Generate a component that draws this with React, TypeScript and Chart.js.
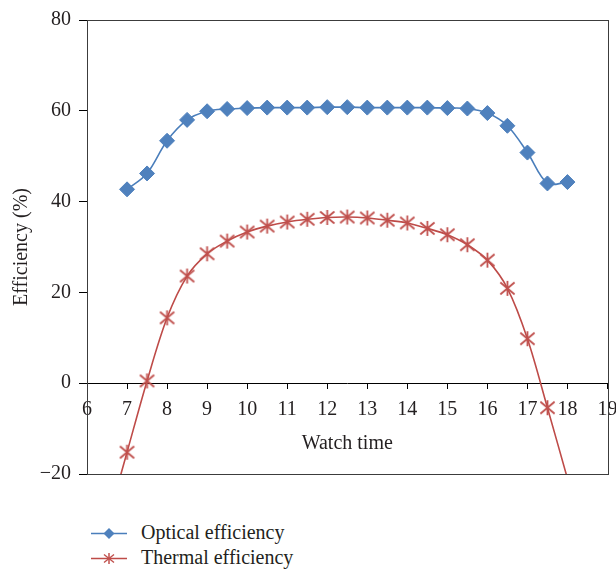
import React, { useEffect, useLayoutEffect, useRef } from "react";
import { Chart, registerables } from "chart.js";

Chart.register(...registerables);

// Hours of the day at which readings were taken
const opticalTime = [7, 7.5, 8, 8.5, 9, 9.5, 10, 10.5, 11, 11.5, 12, 12.5, 13, 13.5, 14, 14.5, 15, 15.5, 16, 16.5, 17, 17.5, 18];
const opticalEfficiency = [42.7, 46.2, 53.4, 58.0, 59.9, 60.4, 60.6, 60.7, 60.7, 60.7, 60.8, 60.8, 60.7, 60.7, 60.7, 60.7, 60.6, 60.5, 59.5, 56.7, 50.8, 44.0, 44.3];

// Thermal series runs a little past both ends of the visible range
const thermalTime = [6.5, 7, 7.5, 8, 8.5, 9, 9.5, 10, 10.5, 11, 11.5, 12, 12.5, 13, 13.5, 14, 14.5, 15, 15.5, 16, 16.5, 17, 17.5, 18];
const thermalEfficiency = [-31, -15.2, 0.5, 14.4, 23.6, 28.5, 31.3, 33.3, 34.6, 35.5, 36.1, 36.5, 36.6, 36.4, 35.9, 35.3, 34.1, 32.7, 30.5, 27.1, 20.9, 9.8, -5.4, -21];

const xTicks = { min: 6, max: 19, step: 1 };
const yTicks = { min: -20, max: 80, step: 20 };

const seriesNames = ["Optical efficiency", "Thermal efficiency"];
const xTitle = "Watch time";
const yTitle = "Efficiency (%)";

const BLUE_LINE = "#4a7ebb";
const BLUE_FILL = "#4f81bd";
const RED_LINE = "#be4b48";
const RED_MARK = "#c0504d";
const INK = "#231f20";
const FONT = "'Liberation Serif', 'Times New Roman', serif";

// Six-armed asterisk used as the thermal marker
function makeAsterisk(size: number, color: string): HTMLCanvasElement {
  const c = document.createElement("canvas");
  c.width = size;
  c.height = size;
  const g = c.getContext("2d")!;
  const m = size / 2;
  const r = size / 2 - 1;
  g.strokeStyle = color;
  g.lineWidth = 1.8;
  g.beginPath();
  g.moveTo(m, m - r);
  g.lineTo(m, m + r);
  const dx = r * 0.95;
  const dy = r * 0.8;
  g.moveTo(m - dx, m - dy);
  g.lineTo(m + dx, m + dy);
  g.moveTo(m + dx, m - dy);
  g.lineTo(m - dx, m + dy);
  g.stroke();
  return c;
}

const framePlugin = {
  id: "plotFrame",
  beforeDatasetsDraw(chart: any) {
    const { ctx, chartArea } = chart;
    const l = Math.round(chartArea.left) + 0.5;
    const t = Math.round(chartArea.top) + 0.5;
    const r = Math.round(chartArea.right) + 0.5;
    const b = Math.round(chartArea.bottom) + 0.5;
    ctx.save();
    ctx.strokeStyle = "#3c3c3c";
    ctx.lineWidth = 1;
    ctx.strokeRect(l, t, r - l, b - t);
    ctx.restore();
  },
};

function Legend() {
  const text: React.CSSProperties = {
    position: "absolute",
    left: 141,
    height: 20,
    lineHeight: "20px",
    fontFamily: FONT,
    fontSize: 20,
    color: INK,
    whiteSpace: "nowrap",
  };
  const sym: React.CSSProperties = { position: "absolute", left: 91 };
  return (
    <>
      <svg width={36} height={20} style={{ ...sym, top: 522 }}>
        <line x1={0} y1={11.5} x2={36} y2={11.5} stroke={BLUE_LINE} strokeWidth={1.6} />
        <polygon points="18,6 23.5,11.5 18,17 12.5,11.5" fill={BLUE_FILL} />
      </svg>
      <div style={{ ...text, top: 522 }}>{seriesNames[0]}</div>
      <svg width={36} height={20} style={{ ...sym, top: 547 }}>
        <line x1={0} y1={11.5} x2={36} y2={11.5} stroke={RED_LINE} strokeWidth={1.6} />
        <g stroke={RED_MARK} strokeWidth={1.5}>
          <line x1={18} y1={6} x2={18} y2={17} />
          <line x1={13} y1={7.5} x2={23} y2={15.5} />
          <line x1={23} y1={7.5} x2={13} y2={15.5} />
        </g>
      </svg>
      <div style={{ ...text, top: 547 }}>{seriesNames[1]}</div>
    </>
  );
}

export default function App() {
  const canvasRef = useRef<HTMLCanvasElement | null>(null);

  // The figure fills the whole window, so the page margin is dropped
  useLayoutEffect(() => {
    const prev = document.body.style.margin;
    document.body.style.margin = "0";
    return () => {
      document.body.style.margin = prev;
    };
  }, []);

  useEffect(() => {
    const canvas = canvasRef.current;
    if (!canvas) return;
    const star = makeAsterisk(17, RED_MARK);
    const tickFont = { family: FONT, size: 20 };

    const chart = new Chart(canvas, {
      type: "line",
      data: {
        datasets: [
          {
            label: seriesNames[0],
            data: opticalTime.map((x, i) => ({ x, y: opticalEfficiency[i] })),
            borderColor: BLUE_LINE,
            borderWidth: 1.6,
            backgroundColor: BLUE_FILL,
            pointStyle: "rectRot",
            pointRadius: 7.5,
            pointBorderWidth: 1,
            pointBorderColor: BLUE_FILL,
            pointBackgroundColor: BLUE_FILL,
            tension: 0.33,
            fill: false,
          },
          {
            label: seriesNames[1],
            data: thermalTime.map((x, i) => ({ x, y: thermalEfficiency[i] })),
            borderColor: RED_LINE,
            borderWidth: 1.6,
            backgroundColor: RED_MARK,
            pointStyle: star as any,
            pointRadius: (ctx: any) => (ctx.raw && ctx.raw.y < yTicks.min ? 0 : 7),
            tension: 0.33,
            fill: false,
          },
        ],
      },
      options: {
        responsive: false,
        animation: false,
        events: [],
        layout: { padding: { left: 0, right: 8, top: 12, bottom: 34 } },
        plugins: {
          legend: { display: false },
          tooltip: { enabled: false },
        },
        scales: {
          x: {
            type: "linear",
            min: xTicks.min,
            max: xTicks.max,
            position: { y: 0 } as any,
            ticks: {
              stepSize: xTicks.step,
              autoSkip: false,
              maxRotation: 0,
              padding: 10,
              color: INK,
              font: tickFont,
            },
            grid: { drawOnChartArea: false, drawTicks: true, tickLength: 5, color: "#000" },
            border: { display: true, color: "#000", width: 1 },
            title: {
              display: true,
              text: xTitle,
              color: INK,
              font: tickFont,
              padding: { top: 0, bottom: 0 },
            },
            afterFit: (s: any) => {
              s.paddingLeft = 0;
              s.paddingRight = 0;
            },
          },
          y: {
            type: "linear",
            min: yTicks.min,
            max: yTicks.max,
            ticks: {
              stepSize: yTicks.step,
              padding: 8,
              color: INK,
              font: tickFont,
              callback: (v: any) => String(v).replace("-", "\u2212"),
            },
            grid: { drawOnChartArea: false, drawTicks: true, tickLength: 8, color: "#000" },
            border: { display: true, color: "#000", width: 1 },
            title: {
              display: true,
              text: yTitle,
              color: INK,
              font: tickFont,
              padding: { top: 2, bottom: 0 },
            },
            afterFit: (s: any) => {
              s.width = 79;
              s.paddingTop = 0;
              s.paddingBottom = 0;
            },
          },
        },
      },
      plugins: [framePlugin],
    });
    return () => chart.destroy();
  }, []);

  return (
    <div style={{ position: "relative", width: 616, height: 569, overflow: "hidden" }}>
      <canvas
        ref={canvasRef}
        width={608}
        height={500}
        style={{ display: "block", position: "absolute", left: 8, top: 8 }}
      />
      <Legend />
    </div>
  );
}
